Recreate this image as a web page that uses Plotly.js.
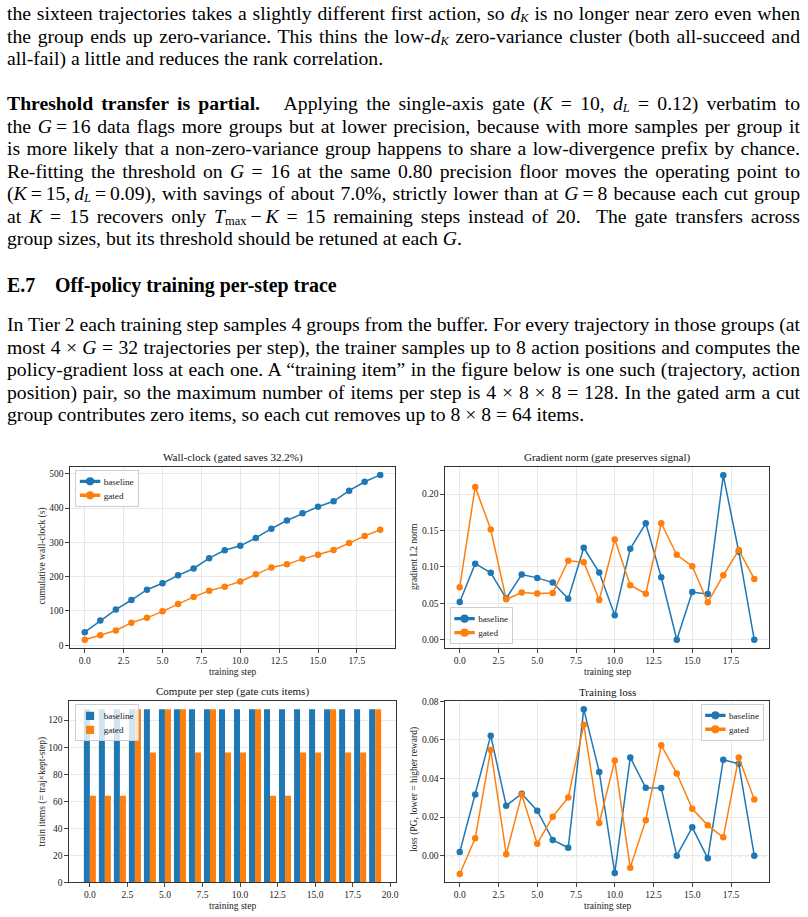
<!DOCTYPE html>
<html>
<head>
<meta charset="utf-8">
<script src="https://cdn.plot.ly/plotly-3.0.1.min.js"></script>
<style>
  html, body { margin:0; padding:0; background:#fff; }
  body { width:808px; height:917px; position:relative; overflow:hidden; font-family:"Liberation Serif","Times New Roman",serif; color:#000; }
  #chart { position:absolute; left:0; top:0; width:808px; height:917px; }
  .ln { position:absolute; left:7px; font-size:19.7px; line-height:22px; height:22px; white-space:nowrap; z-index:10; }
  .ln sub { font-size:12.5px; vertical-align:baseline; position:relative; top:2px; line-height:0; }
  .h { position:absolute; left:7px; font-size:19.9px; font-weight:bold; line-height:22px; z-index:10; white-space:nowrap; }
  i { font-style:italic; }
</style>
</head>
<body>
<div id="chart"></div>

<div class="ln j" style="top:2px">the sixteen trajectories takes a slightly different first action, so <i>d</i><sub><i>K</i></sub> is no longer near zero even when</div>
<div class="ln j" style="top:24.5px">the group ends up zero-variance. This thins the low-<i>d</i><sub><i>K</i></sub> zero-variance cluster (both all-succeed and</div>
<div class="ln" style="top:47px">all-fail) a little and reduces the rank correlation.</div>

<div class="ln j" style="top:92px"><b>Threshold transfer is partial.</b>&nbsp;&nbsp; Applying the single-axis gate (<i>K</i> = 10, <i>d</i><sub><i>L</i></sub> = 0.12) verbatim to</div>
<div class="ln j" style="top:114.5px">the <i>G</i>&#8201;=&#8201;16 data flags more groups but at lower precision, because with more samples per group it</div>
<div class="ln j" style="top:137px">is more likely that a non-zero-variance group happens to share a low-divergence prefix by chance.</div>
<div class="ln j" style="top:159.5px">Re-fitting the threshold on <i>G</i> = 16 at the same 0.80 precision floor moves the operating point to</div>
<div class="ln j" style="top:182px">(<i>K</i>&#8201;=&#8201;15,&#8201;<i>d</i><sub><i>L</i></sub>&#8201;=&#8201;0.09), with savings of about 7.0%, strictly lower than at <i>G</i>&#8201;=&#8201;8 because each cut group</div>
<div class="ln j" style="top:204.5px">at <i>K</i> = 15 recovers only <i>T</i><sub>max</sub>&#8201;&minus;&#8201;<i>K</i> = 15 remaining steps instead of 20.&nbsp; The gate transfers across</div>
<div class="ln" style="top:227px">group sizes, but its threshold should be retuned at each <i>G</i>.</div>

<div class="h" style="top:274px">E.7&nbsp;&nbsp;&nbsp;&nbsp;Off-policy training per-step trace</div>

<div class="ln j" style="top:313px">In Tier 2 each training step samples 4 groups from the buffer. For every trajectory in those groups (at</div>
<div class="ln j" style="top:335.5px">most 4 &times; <i>G</i> = 32 trajectories per step), the trainer samples up to 8 action positions and computes the</div>
<div class="ln j" style="top:358px">policy-gradient loss at each one. A &ldquo;training item&rdquo; in the figure below is one such (trajectory, action</div>
<div class="ln j" style="top:380.5px">position) pair, so the maximum number of items per step is 4 &times; 8 &times; 8 = 128. In the gated arm a cut</div>
<div class="ln" style="top:403px">group contributes zero items, so each cut removes up to 8 &times; 8 = 64 items.</div>

<script>
// ---------------- data ----------------
const steps = [0,1,2,3,4,5,6,7,8,9,10,11,12,13,14,15,16,17,18,19];

const wallBaseline = [38, 72, 104, 132, 162, 181, 204, 224, 254, 277, 290, 313, 340, 364, 385, 404, 420, 451, 477, 497];
const wallGated    = [16, 29, 43, 66, 80, 99, 120, 141, 159, 171, 186, 207, 227, 236, 252, 264, 278, 298, 319, 337];

const gradBaseline = [0.052, 0.1045, 0.092, 0.057, 0.0895, 0.085, 0.0786, 0.0564, 0.1264, 0.0923, 0.0336, 0.125, 0.160, 0.0859, 0.0, 0.0655, 0.0627, 0.2259, 0.1209, 0.0];
const gradGated    = [0.0723, 0.210, 0.1514, 0.0555, 0.065, 0.0636, 0.0641, 0.1086, 0.1064, 0.0545, 0.1377, 0.075, 0.0632, 0.160, 0.1168, 0.1009, 0.0514, 0.0886, 0.1232, 0.0836];

const itemsBaseline = [128,128,128,128,128,128,128,128,128,128,128,128,128,128,128,128,128,128,128,128];
const itemsGated    = [64,64,64,128,96,128,128,96,128,96,96,128,64,64,96,96,128,96,96,128];

const lossBaseline = [0.0019, 0.0317, 0.0622, 0.0259, 0.0321, 0.0233, 0.0081, 0.0041, 0.0759, 0.0434, -0.0090, 0.0509, 0.0352, 0.0350, 0.0, 0.0147, -0.0014, 0.0497, 0.0476, 0.0];
const lossGated    = [-0.0095, 0.0090, 0.0548, 0.0007, 0.0316, 0.0062, 0.0202, 0.0302, 0.0679, 0.0169, 0.0493, -0.0062, 0.0184, 0.0572, 0.0426, 0.0243, 0.0157, 0.0095, 0.0509, 0.0291];

const seriesNames = ['baseline', 'gated'];
const titles = ['Wall-clock (gated saves 32.2%)', 'Gradient norm (gate preserves signal)', 'Compute per step (gate cuts items)', 'Training loss'];
const xLabel = 'training step';
const yLabels = ['cumulative wall-clock (s)', 'gradient L2 norm', 'train items (= traj\u00d7kept-step)', 'loss (PG, lower = higher reward)'];

// ---------------- justify the paragraph lines ----------------
const TEXT_W = 793;
document.querySelectorAll('.ln.j').forEach(el => {
  const w = el.getBoundingClientRect().width;
  const n = (el.textContent.match(/[ \u00a0]/g) || []).length;
  if (n > 0) el.style.wordSpacing = ((TEXT_W - w) / n).toFixed(3) + 'px';
});

// ---------------- styling ----------------
const W = 808, H = 917;
const px = x => x / W;
const py = y => 1 - y / H;
const BLUE = '#1f77b4', ORANGE = '#ff7f0e';
const FONT = '"Liberation Serif","Times New Roman",serif';
const LEG_SCALE = 0.68;

function lineTrace(y, name, color, xa, ya, leg) {
  return { x: steps, y: y, name: name, type: 'scatter', mode: 'lines+markers',
    line: { color: color, width: 1.5 }, marker: { color: color, size: 6.5 },
    xaxis: xa, yaxis: ya, legend: leg, showlegend: true };
}

const traces = [
  lineTrace(wallBaseline, seriesNames[0], BLUE, 'x', 'y', 'legend'),
  lineTrace(wallGated, seriesNames[1], ORANGE, 'x', 'y', 'legend'),
  lineTrace(gradBaseline, seriesNames[0], BLUE, 'x2', 'y2', 'legend2'),
  lineTrace(gradGated, seriesNames[1], ORANGE, 'x2', 'y2', 'legend2'),
  { x: steps, y: itemsBaseline, name: seriesNames[0], type: 'bar', marker: { color: BLUE }, xaxis: 'x3', yaxis: 'y3', legend: 'legend3' },
  { x: steps, y: itemsGated, name: seriesNames[1], type: 'bar', marker: { color: ORANGE }, xaxis: 'x3', yaxis: 'y3', legend: 'legend3' },
  lineTrace(lossBaseline, seriesNames[0], BLUE, 'x4', 'y4', 'legend4'),
  lineTrace(lossGated, seriesNames[1], ORANGE, 'x4', 'y4', 'legend4')
];

function axis(domain, range, opts) {
  return Object.assign({
    domain: domain, range: range, autorange: false,
    showline: true, mirror: true, linecolor: '#333', linewidth: 1.1,
    ticks: 'outside', ticklen: 3.5, tickwidth: 0.9, tickcolor: '#333',
    tickfont: { family: FONT, size: 9.5, color: '#222' },
    showgrid: true, gridcolor: '#e8e8e8', gridwidth: 1, zeroline: false, fixedrange: true
  }, opts);
}

const xTop = [px(70), px(395)], xTopR = [px(445), px(769)];
const yTop = [py(648), py(467)], yBot = [py(882.3), py(700.7)];
const xBot = [px(69), px(396)];

const xtick = { tick0: 0, dtick: 2.5, tickformat: '.1f' };

function legendCfg(x, y, xanchor, yanchor) {
  return { x: x, y: y, xanchor: xanchor, yanchor: yanchor, xref: 'paper', yref: 'paper',
    bgcolor: 'rgba(255,255,255,0.8)', bordercolor: '#cccccc', borderwidth: 1.4,
    font: { family: FONT, size: 13.5, color: '#222' }, tracegroupgap: 0, itemsizing: 'constant' };
}

const annFont = { family: FONT, size: 9.5, color: '#222' };
const titleFont = { family: FONT, size: 11, color: '#111' };
function ann(text, x, y, font, angle) {
  return { text: text, x: px(x), y: py(y), xref: 'paper', yref: 'paper', showarrow: false,
    xanchor: 'center', yanchor: 'middle', font: font, textangle: angle || 0 };
}

// legend anchor points in page pixels (corner given by anchors)
const legendSpecs = {
  legend:  { x: 75.5,  y: 470,   xa: 'left',  ya: 'top' },
  legend2: { x: 450,   y: 644.5, xa: 'left',  ya: 'bottom' },
  legend3: { x: 75.5,  y: 704.5, xa: 'left',  ya: 'top' },
  legend4: { x: 764.5, y: 704,   xa: 'right', ya: 'top' }
};

const layout = {
  width: W, height: H, margin: { l: 0, r: 0, t: 0, b: 0 },
  paper_bgcolor: 'rgba(0,0,0,0)', plot_bgcolor: '#fff',
  barmode: 'group', bargap: 0.2, bargroupgap: 0,
  xaxis:  axis(xTop,  [-0.95, 19.95], Object.assign({ anchor: 'y' }, xtick)),
  yaxis:  axis(yTop,  [-8, 520], { anchor: 'x', tick0: 0, dtick: 100 }),
  xaxis2: axis(xTopR, [-0.95, 19.95], Object.assign({ anchor: 'y2' }, xtick)),
  yaxis2: axis(yTop,  [-0.0113, 0.2373], { anchor: 'x2', tick0: 0, dtick: 0.05, tickformat: '.2f' }),
  xaxis3: axis(xBot,  [-1.39, 20.39], Object.assign({ anchor: 'y3', showgrid: false }, xtick)),
  yaxis3: axis(yBot,  [0, 134.4], { anchor: 'x3', tick0: 0, dtick: 20 }),
  xaxis4: axis(xTopR, [-0.95, 19.95], Object.assign({ anchor: 'y4' }, xtick)),
  yaxis4: axis(yBot,  [-0.0138, 0.0803], { anchor: 'x4', tick0: 0, dtick: 0.02, tickformat: '.2f' }),
  shapes: [
    { type: 'line', xref: 'x4 domain', yref: 'y4', x0: 0, x1: 1, y0: 0, y1: 0,
      line: { color: '#999', width: 1, dash: 'dot' }, layer: 'below' }
  ],
  annotations: [
    ann(titles[0], 233, 457.5, titleFont),
    ann(titles[1], 607, 457.5, titleFont),
    ann(titles[2], 233, 691.5, titleFont),
    ann(titles[3], 607, 691.5, titleFont),
    ann(xLabel, 233, 671.5, annFont),
    ann(xLabel, 607, 671.5, annFont),
    ann(xLabel, 233, 905.5, annFont),
    ann(xLabel, 607, 905.5, annFont),
    ann(yLabels[0], 41.5, 556, annFont, -90),
    ann(yLabels[1], 414, 557, annFont, -90),
    ann(yLabels[2], 41.5, 792, annFont, -90),
    ann(yLabels[3], 414, 790, annFont, -90)
  ]
};
Object.keys(legendSpecs).forEach(k => {
  const s = legendSpecs[k];
  layout[k] = legendCfg(px(s.x), py(s.y), s.xa, s.ya);
});

Plotly.newPlot('chart', traces, layout, { displayModeBar: false, staticPlot: true }).then(gd => {
  // shrink each legend box to matplotlib-like compactness, keeping its anchor corner fixed
  Object.keys(legendSpecs).forEach(k => {
    const s = legendSpecs[k];
    const g = gd.querySelector('g.' + k);
    if (!g) return;
    const bg = g.querySelector('rect.bg');
    const bb = bg ? bg.getBBox() : g.getBBox();
    const t = g.getAttribute('transform') || '';
    const m = t.match(/translate\(\s*([-\d.e]+)[ ,]+([-\d.e]+)\s*\)/);
    if (!m) return;
    let tx = parseFloat(m[1]), ty = parseFloat(m[2]);
    const w = bb.width, h = bb.height;
    if (s.xa === 'right') tx = tx + w * (1 - LEG_SCALE);
    if (s.ya === 'bottom') ty = ty + h * (1 - LEG_SCALE);
    g.setAttribute('transform', 'translate(' + tx + ',' + ty + ') scale(' + LEG_SCALE + ')');
  });
});
</script>
</body>
</html>
